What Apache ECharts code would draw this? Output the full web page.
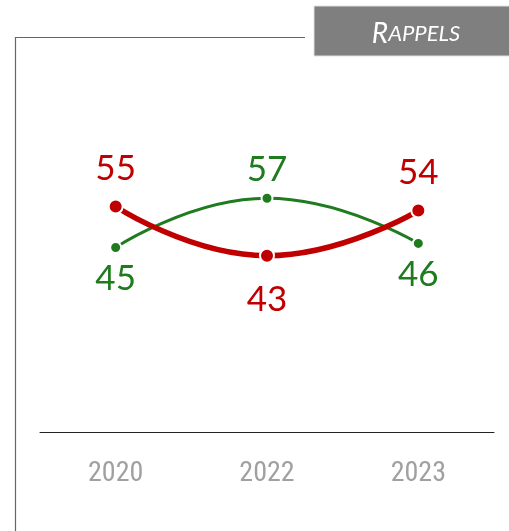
<!DOCTYPE html>
<html><head><meta charset="utf-8">
<script src="https://cdn.jsdelivr.net/npm/echarts@6/dist/echarts.min.js"></script>
<style>html,body{margin:0;padding:0;background:#fff}#c{width:509px;height:531px}</style>
</head><body><div id="c"></div>
<script>
const categories = ['2020', '2022', '2023'];
const redValues = [55, 43, 54];
const greenValues = [45, 57, 46];
const redLabelPos = ['top', 'bottom', 'top'];
const greenLabelPos = ['bottom', 'top', 'bottom'];
const titleText = 'Rappels';

const RED = '#C00000', GREEN = '#1E7B1E';
const labelFont = 'Lato, "Open Sans", sans-serif';

function mkData(vals, pos, color, dTop, dBottom) {
  return vals.map((v, i) => ({
    value: v,
    label: {
      show: true, position: pos[i], distance: pos[i] === 'top' ? dTop : dBottom,
      color: color, fontSize: 35, fontFamily: labelFont
    }
  }));
}

const chart = echarts.init(document.getElementById('c'));
chart.setOption({
  animation: false,
  grid: { left: 40, right: 15, top: 22, bottom: 99 },
  xAxis: {
    type: 'category', data: categories, boundaryGap: true,
    axisLine: { lineStyle: { color: '#222', width: 1 } },
    axisTick: { show: false },
    axisLabel: { color: '#a0a0a0', fontSize: 28, margin: 28, fontFamily: '"Liberation Sans Narrow", "Roboto Condensed", Roboto, sans-serif' }
  },
  yAxis: { type: 'value', min: 0, max: 100, show: false, splitLine: { show: false } },
  series: [
    {
      type: 'line', data: mkData(greenValues, greenLabelPos, GREEN, 5, 7), smooth: true, z: 2,
      symbol: 'circle', symbolSize: 11,
      lineStyle: { color: GREEN, width: 3 },
      itemStyle: { color: GREEN, borderColor: '#fff', borderWidth: 2 }
    },
    {
      type: 'line', data: mkData(redValues, redLabelPos, RED, 12, 19), smooth: true, z: 3,
      symbol: 'circle', symbolSize: 14,
      lineStyle: { color: RED, width: 5.5 },
      itemStyle: { color: RED, borderColor: '#fff', borderWidth: 2 }
    }
  ],
  graphic: [
    { type: 'polyline', shape: { points: [[305, 37.5], [15.5, 37.5], [15.5, 531]] }, style: { stroke: '#666', lineWidth: 1.2, fill: null } },
    { type: 'rect', shape: { x: 314, y: 6, width: 196, height: 50 }, style: { fill: '#7f7f7f', stroke: '#e0e0e0', lineWidth: 1 } },
    {
      type: 'text', x: 416, y: 34,
      style: {
        text: '{a|R}{b|APPELS}', align: 'center', verticalAlign: 'middle',
        rich: {
          a: { fontSize: 28, fontStyle: 'italic', fill: '#fff', fontFamily: labelFont },
          b: { fontSize: 22, fontStyle: 'italic', fill: '#fff', fontFamily: labelFont }
        }
      }
    }
  ]
});
</script></body></html>
